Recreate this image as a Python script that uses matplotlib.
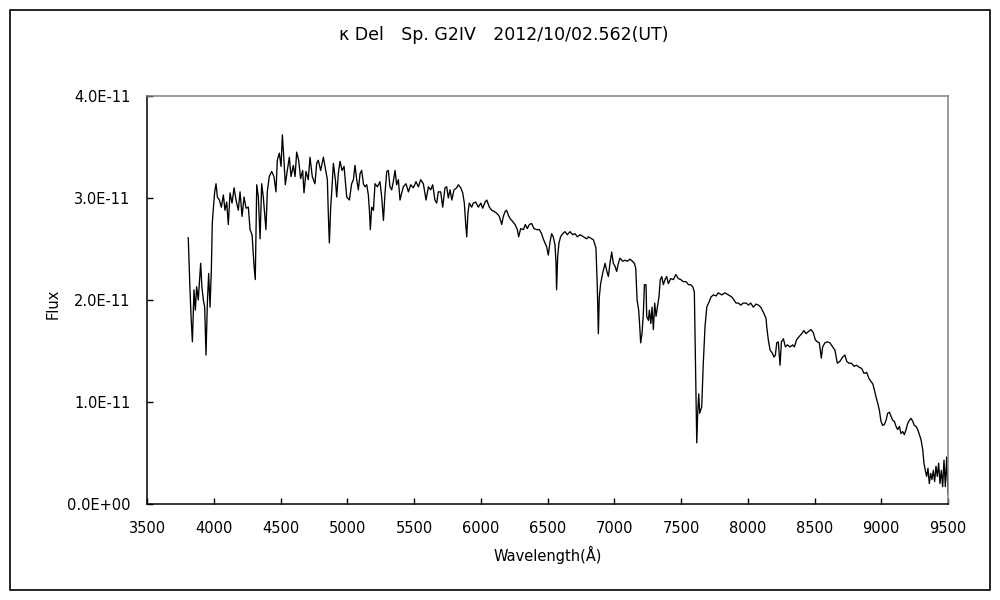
import matplotlib
matplotlib.use("Agg")
import matplotlib.pyplot as plt
from matplotlib.patches import Rectangle

# ---- data ----
wavelength = [
    3809, 3815, 3822, 3830, 3840, 3852, 3862, 3872, 3884, 3902, 3911, 3922, 3932, 3942, 3952,
    3962, 3972, 3982, 3989, 3997, 4007, 4017, 4027, 4042, 4057, 4072, 4084, 4097, 4109, 4122,
    4137, 4152, 4167, 4184, 4197, 4212, 4227, 4242, 4259, 4272, 4287, 4302, 4311, 4322, 4334,
    4347, 4359, 4371, 4391, 4401, 4416, 4434, 4451, 4466, 4476, 4491, 4504, 4514, 4526, 4536,
    4551, 4566, 4579, 4596, 4609, 4621, 4636, 4651, 4666, 4676, 4691, 4708,
    4721, 4738, 4758, 4771, 4783, 4801, 4821, 4836, 4851, 4858, 4866, 4876, 4886, 4896, 4911,
    4921, 4933, 4946, 4961, 4976, 4996, 5016, 5033, 5046, 5058, 5071, 5083, 5096, 5108, 5121,
    5133, 5146, 5158, 5166, 5173, 5183, 5196, 5208, 5226, 5245, 5258, 5271, 5283, 5296, 5308,
    5320, 5333, 5345, 5358, 5370, 5383, 5395, 5408, 5420, 5440, 5458, 5475, 5495, 5515, 5533,
    5550, 5570, 5590, 5608, 5625, 5640, 5657, 5670, 5682, 5700, 5715, 5732, 5745, 5757,
    5770, 5783, 5800, 5820, 5832, 5850, 5865, 5877, 5887, 5895, 5904, 5914, 5932, 5944, 5962,
    5982, 6000, 6015, 6032, 6045, 6065, 6082, 6099, 6120, 6139, 6157, 6169, 6184, 6194, 6207,
    6219, 6239, 6257, 6274, 6284, 6299, 6319, 6334, 6349, 6364, 6381, 6399, 6419, 6439, 6456,
    6468, 6481, 6494, 6506, 6519, 6531, 6543, 6556, 6564, 6568, 6576, 6586, 6598, 6613, 6631,
    6648, 6669, 6689, 6706, 6723, 6744, 6769, 6794,
    6806, 6831, 6844, 6856, 6863, 6873, 6881, 6888, 6898, 6913, 6931, 6943, 6956, 6968, 6981,
    6993, 7006, 7018, 7031, 7043, 7063, 7081, 7098, 7118, 7136, 7151, 7161, 7171, 7183, 7191,
    7198, 7208, 7218, 7226, 7238, 7243, 7256, 7263, 7274, 7283, 7293, 7303, 7313, 7323, 7335,
    7345, 7356, 7368, 7380, 7393, 7405, 7423, 7443, 7461, 7480, 7498, 7518, 7538, 7556, 7573,
    7588, 7600, 7607, 7613, 7618, 7625, 7633, 7640, 7655,
    7667, 7680, 7693, 7710, 7725, 7743, 7763, 7780, 7805, 7830, 7855, 7880, 7897, 7912, 7930,
    7947, 7967, 7987, 8006, 8022, 8042, 8062, 8080, 8097, 8117, 8137, 8142, 8154, 8167, 8184,
    8197, 8207, 8217, 8229, 8242, 8252, 8267, 8282, 8297, 8317, 8337, 8349, 8366, 8384, 8404,
    8421, 8436, 8454, 8474, 8491, 8506, 8521, 8536, 8551, 8561, 8578, 8596, 8616, 8636, 8653,
    8671, 8691, 8711, 8728, 8741, 8758, 8778, 8796, 8816, 8835, 8853, 8871, 8891, 8908, 8923,
    8936, 8948, 8961, 8973, 8986, 8998, 9011, 9023, 9036, 9048, 9061, 9073, 9086, 9098, 9111,
    9123, 9136, 9148, 9161, 9173, 9186, 9198, 9211, 9223, 9236, 9248, 9261, 9273, 9286, 9298,
    9311, 9320, 9330, 9340, 9350, 9360, 9370, 9380, 9390, 9400, 9410, 9420, 9430, 9440, 9450,
    9460, 9470, 9480, 9490, 9500,
]
flux_e11 = [
    2.61, 2.36, 2.10, 1.84, 1.59, 2.10, 1.90, 2.13, 2.00, 2.36, 2.13, 2.00, 1.93, 1.46, 1.97,
    2.26, 1.93, 2.29, 2.75, 2.90, 3.06, 3.14, 3.01, 2.98, 2.91, 3.03, 2.88, 2.96, 2.74, 3.05,
    2.95, 3.10, 2.98, 2.88, 3.06, 2.82, 3.01, 2.90, 2.91, 2.69, 2.64, 2.33, 2.20, 3.13, 3.01,
    2.60, 3.14, 3.01, 2.69, 3.06, 3.21, 3.26, 3.21, 3.06, 3.37, 3.44, 3.31, 3.62, 3.37, 3.13,
    3.27, 3.40, 3.21, 3.32, 3.21, 3.45, 3.37, 3.19, 3.27, 3.05, 3.26, 3.18,
    3.40, 3.21, 3.14, 3.34, 3.37, 3.27, 3.40, 3.29, 3.18, 2.85, 2.56, 2.91, 3.11, 3.34, 3.18,
    3.01, 3.24, 3.36, 3.27, 3.31, 3.01, 2.98, 3.14, 3.18, 3.32, 3.18, 3.08, 3.24, 3.27, 3.14,
    3.11, 3.13, 3.03, 2.88, 2.69, 2.91, 2.88, 3.14, 3.11, 3.16, 3.01, 2.78, 3.05, 3.26, 3.27,
    3.11, 3.08, 3.16, 3.27, 3.13, 3.18, 2.98, 3.05, 3.11, 3.14, 3.06, 3.13, 3.10, 3.16, 3.11,
    3.18, 3.14, 2.98, 3.11, 3.08, 3.13, 2.98, 2.95, 3.06, 3.06, 2.91, 3.10, 3.11, 3.00,
    3.08, 2.98, 3.08, 3.10, 3.13, 3.10, 3.05, 2.95, 2.75, 2.62, 2.85, 2.95, 2.91, 2.95, 2.96,
    2.91, 2.95, 2.90, 2.96, 2.98, 2.91, 2.88, 2.87, 2.85, 2.82, 2.74, 2.82, 2.87, 2.88, 2.83,
    2.80, 2.77, 2.74, 2.69, 2.62, 2.70, 2.69, 2.74, 2.70, 2.74, 2.75, 2.70, 2.69, 2.69, 2.65,
    2.60, 2.56, 2.52, 2.44, 2.57, 2.65, 2.62, 2.54, 2.36, 2.10, 2.42, 2.56, 2.62, 2.65, 2.67,
    2.64, 2.67, 2.64, 2.65, 2.62, 2.64, 2.62, 2.60,
    2.62, 2.60, 2.59, 2.54, 2.51, 2.13, 1.67, 2.03, 2.16, 2.26, 2.36, 2.29, 2.23, 2.36, 2.47,
    2.36, 2.33, 2.28, 2.36, 2.41, 2.38, 2.39, 2.38, 2.40, 2.38, 2.36, 2.31, 2.00, 1.90, 1.74,
    1.58, 1.67, 1.87, 2.15, 2.15, 1.84, 1.80, 1.90, 1.77, 1.93, 1.71, 1.97, 1.84, 1.93, 2.03,
    2.20, 2.23, 2.15, 2.20, 2.23, 2.16, 2.21, 2.20, 2.25, 2.21, 2.20, 2.18, 2.18, 2.15, 2.15,
    2.13, 2.08, 1.48, 0.95, 0.60, 0.89, 1.08, 0.89, 0.95,
    1.38, 1.74, 1.93, 1.98, 2.03, 2.05, 2.04, 2.07, 2.05, 2.07, 2.05, 2.03, 2.00, 1.97, 1.97,
    1.95, 1.97, 1.97, 1.95, 1.97, 1.93, 1.96, 1.95, 1.93, 1.88, 1.82, 1.74, 1.61, 1.51, 1.48,
    1.44, 1.46, 1.58, 1.59, 1.36, 1.59, 1.62, 1.54, 1.56, 1.54, 1.56, 1.54, 1.61, 1.64, 1.67,
    1.70, 1.67, 1.69, 1.71, 1.68, 1.61, 1.59, 1.58, 1.43, 1.54, 1.58, 1.59, 1.58, 1.54, 1.51,
    1.38, 1.40, 1.44, 1.46, 1.40, 1.38, 1.38, 1.35, 1.36, 1.34, 1.33, 1.28, 1.29, 1.23, 1.20,
    1.18, 1.12, 1.05, 0.99, 0.92, 0.81, 0.77, 0.78, 0.82, 0.89, 0.90, 0.86, 0.82, 0.81, 0.76,
    0.73, 0.76, 0.69, 0.71, 0.68, 0.73, 0.79, 0.82, 0.84, 0.81, 0.77, 0.76, 0.73, 0.68, 0.63,
    0.53, 0.40, 0.33, 0.27, 0.35, 0.20, 0.30, 0.24, 0.33, 0.22, 0.37, 0.27, 0.40, 0.20, 0.33,
    0.17, 0.43, 0.17, 0.46, 0.10,
]
flux = [v * 1e-11 for v in flux_e11]

x_ticks = [3500, 4000, 4500, 5000, 5500, 6000, 6500, 7000, 7500, 8000, 8500, 9000, 9500]
y_ticks = [0.0, 1.0e-11, 2.0e-11, 3.0e-11, 4.0e-11]
y_tick_labels = ["0.0E+00", "1.0E-11", "2.0E-11", "3.0E-11", "4.0E-11"]

title = "κ Del\u3000Sp. G2IV\u30002012/10/02.562(UT)"
x_label = "Wavelength(Å)"
y_label = "Flux"

# ---- figure ----
plt.rcParams['font.family'] = ['DejaVu Sans', 'Noto Sans CJK JP']
fig = plt.figure(figsize=(10, 6), dpi=100)
fig.patch.set_facecolor("white")
fig.add_artist(Rectangle((0.010, 0.017), 0.980, 0.966, transform=fig.transFigure,
                         fill=False, edgecolor="black", linewidth=1.2))

ax = fig.add_axes([0.147, 0.16, 0.801, 0.68])
ax.plot(wavelength, flux, color="black", linewidth=0.95)

ax.set_xlim(3500, 9500)
ax.set_ylim(0, 4.0e-11)
ax.set_xticks(x_ticks)
ax.set_xticklabels([str(t) for t in x_ticks])
ax.set_yticks(y_ticks)
ax.set_yticklabels(y_tick_labels)
ax.tick_params(direction="in", length=4, width=1, labelsize=10.5, pad=12, colors="black")

for side in ("left", "bottom"):
    ax.spines[side].set_color("black")
    ax.spines[side].set_linewidth(1.1)
for side in ("top", "right"):
    ax.spines[side].set_color("#808080")
    ax.spines[side].set_linewidth(1.1)

ax.set_xlabel(x_label, fontsize=10.5, va="center")
ax.xaxis.set_label_coords(0.5, -0.125)
ax.set_ylabel(y_label, fontsize=10.5, va="center")
ax.yaxis.set_label_coords(-0.117, 0.49)
fig.text(0.504, 0.942, title, ha="center", va="center", fontsize=12.5)

fig.savefig("out.png", dpi=100)
